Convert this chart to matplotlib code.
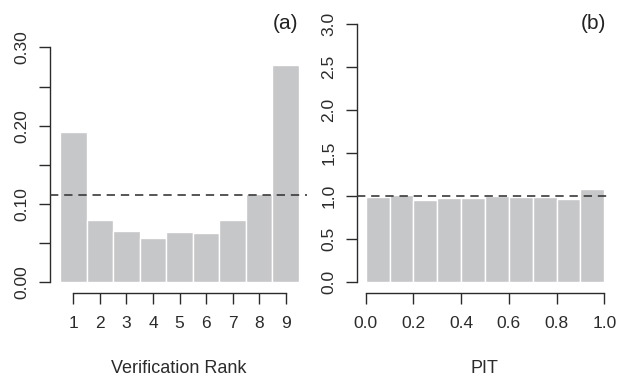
import numpy as np
import matplotlib
matplotlib.use("Agg")
import matplotlib.pyplot as plt

plt.rcParams["font.family"] = ["Liberation Sans", "DejaVu Sans"]

# -------------------------
# Data
# -------------------------
ranks = [1, 2, 3, 4, 5, 6, 7, 8, 9]
rank_freq = [0.1915, 0.080, 0.065, 0.056, 0.064, 0.0635, 0.080, 0.113, 0.2775]
rank_ticks = [1, 2, 3, 4, 5, 6, 7, 8, 9]
rank_yticks = [0.00, 0.10, 0.20, 0.30]
rank_yminor = [0.05, 0.15, 0.25]

pit_edges = [0.0, 0.1, 0.2, 0.3, 0.4, 0.5, 0.6, 0.7, 0.8, 0.9, 1.0]
pit_density = [0.99, 1.01, 0.96, 0.975, 0.98, 1.0, 0.985, 0.985, 0.97, 1.08]
pit_xticks = [0.0, 0.2, 0.4, 0.6, 0.8, 1.0]
pit_yticks = [0.0, 0.5, 1.0, 1.5, 2.0, 2.5, 3.0]

BAR = "#c6c7c9"
INK = "#2b2b2b"

W, H = 617, 377
fig = plt.figure(figsize=(W / 100, H / 100), dpi=100)


def px_axes(x0, x1, ytop, ybot):
    return fig.add_axes([x0 / W, 1 - ybot / H, (x1 - x0) / W, (ybot - ytop) / H])


def style(ax, xbounds, ybounds):
    for s in ["top", "right"]:
        ax.spines[s].set_visible(False)
    ax.spines["left"].set_bounds(*ybounds)
    ax.spines["bottom"].set_bounds(*xbounds)
    for s in ["left", "bottom"]:
        ax.spines[s].set_color(INK)
        ax.spines[s].set_linewidth(1.0)
    ax.tick_params(axis="both", which="both", direction="out", length=7.7,
                   width=1.0, color=INK, labelcolor=INK, labelsize=12.5)
    ax.tick_params(axis="x", pad=9.3)
    ax.tick_params(axis="y", pad=6.8)
    for lab in ax.get_yticklabels():
        lab.set_rotation(90)
        lab.set_va("center")


# -------------------------
# (a) Verification rank histogram
# -------------------------
ax1 = px_axes(50, 307, 13.5, 292.7)
ax1.bar(ranks, rank_freq, width=1.0, color=BAR, edgecolor="white", linewidth=1.0)
ax1.axhline(1 / 9, color="#3a3a3a", lw=1.2, ls=(0, (5, 3.5)), zorder=3)
ax1.set_xlim(0.12, 9.80)
ax1.set_ylim(-0.0132, 0.3432)
ax1.set_xticks(rank_ticks)
ax1.set_yticks(rank_yticks)
ax1.set_yticklabels([f"{v:.2f}" for v in rank_yticks])
ax1.set_yticks(rank_yminor, minor=True)
style(ax1, (1, 9), (0, 0.30))
fig.text(298 / W, 1 - 23.5 / H, "(a)", ha="right", va="center", fontsize=15, color="#222222")
fig.text(178.5 / W, 1 - 373 / H, "Verification Rank", ha="center", va="baseline",
         fontsize=13, color=INK)

# -------------------------
# (b) PIT histogram
# -------------------------
ax2 = px_axes(356.7, 612.3, 13.5, 292.7)
ax2.bar(pit_edges[:-1], pit_density, width=np.diff(pit_edges), align="edge",
        color=BAR, edgecolor="white", linewidth=1.0)
ax2.axhline(1.0, color="#3a3a3a", lw=1.2, ls=(0, (5, 3.5)), zorder=3)
ax2.set_xlim(-0.0377, 1.0335)
ax2.set_ylim(-0.12, 3.12)
ax2.set_xticks(pit_xticks)
ax2.set_xticklabels([f"{v:.1f}" for v in pit_xticks])
ax2.set_yticks(pit_yticks)
ax2.set_yticklabels([f"{v:.1f}" for v in pit_yticks])
style(ax2, (0, 1), (0, 3))
fig.text(606 / W, 1 - 23.5 / H, "(b)", ha="right", va="center", fontsize=15, color="#222222")
fig.text(484.5 / W, 1 - 373 / H, "PIT", ha="center", va="baseline", fontsize=13, color=INK)

fig.savefig("out.png", dpi=100)
